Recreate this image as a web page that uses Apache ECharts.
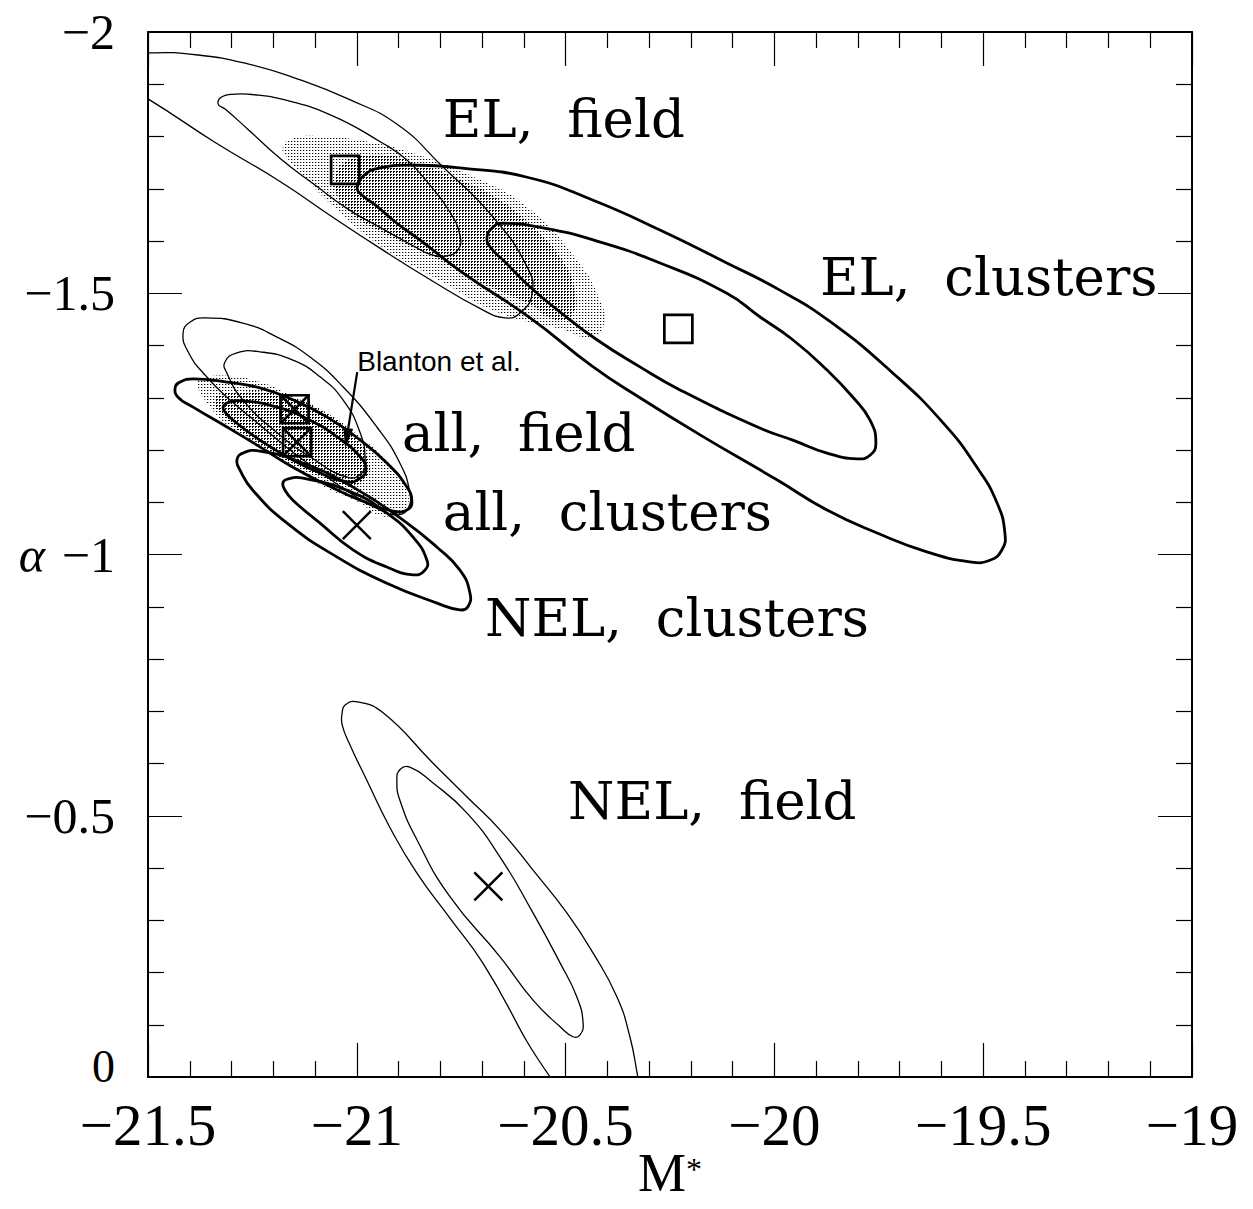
<!DOCTYPE html>
<html><head><meta charset="utf-8">
<script src="https://cdn.jsdelivr.net/npm/echarts@6/dist/echarts.min.js"></script>
<style>html,body{margin:0;padding:0;background:#fff}#c{width:1253px;height:1209px}</style>
</head><body><div id="c"></div>
<script>
// ---- axes ----
const X_MIN = -21.5, X_MAX = -19, X_STEP = 0.5;
const Y_MIN = -2, Y_MAX = 0, Y_STEP = 0.5;

// ---- confidence contours, points: [M*, alpha] ----
const EL_FIELD_OUTER = [[-21.627,-1.935],[-21.591,-1.952],[-21.500,-1.960],[-21.380,-1.956],[-21.261,-1.939],[-21.141,-1.910],[-21.021,-1.872],[-20.901,-1.822],[-20.798,-1.745],[-20.674,-1.646],[-20.592,-1.550],[-20.580,-1.500],[-20.609,-1.462],[-20.645,-1.453],[-20.703,-1.470],[-20.822,-1.525],[-20.942,-1.585],[-21.062,-1.648],[-21.182,-1.713],[-21.340,-1.789],[-21.500,-1.872],[-21.567,-1.900]];
const EL_FIELD_INNER = [[-21.332,-1.862],[-21.323,-1.876],[-21.292,-1.881],[-21.261,-1.881],[-21.182,-1.872],[-21.062,-1.841],[-20.942,-1.789],[-20.880,-1.755],[-20.825,-1.707],[-20.777,-1.655],[-20.753,-1.611],[-20.758,-1.583],[-20.789,-1.571],[-20.825,-1.575],[-20.861,-1.589],[-20.942,-1.625],[-21.021,-1.661],[-21.100,-1.707],[-21.182,-1.757],[-21.261,-1.814],[-21.316,-1.853]];
const EL_CLUSTERS_OUTER = [[-20.999,-1.701],[-20.985,-1.724],[-20.944,-1.740],[-20.849,-1.745],[-20.753,-1.740],[-20.592,-1.722],[-20.434,-1.678],[-20.274,-1.621],[-20.114,-1.558],[-19.987,-1.506],[-19.867,-1.446],[-19.716,-1.347],[-19.596,-1.252],[-19.515,-1.167],[-19.467,-1.099],[-19.448,-1.041],[-19.455,-1.009],[-19.484,-0.989],[-19.532,-0.986],[-19.635,-1.005],[-19.754,-1.041],[-19.874,-1.085],[-19.994,-1.143],[-20.178,-1.229],[-20.322,-1.300],[-20.434,-1.359],[-20.585,-1.453],[-20.746,-1.539],[-20.849,-1.602],[-20.904,-1.634],[-20.956,-1.669],[-20.988,-1.688]];
const EL_CLUSTERS_INNER = [[-20.688,-1.608],[-20.676,-1.625],[-20.652,-1.634],[-20.554,-1.625],[-20.434,-1.602],[-20.274,-1.558],[-20.114,-1.500],[-20.035,-1.455],[-19.956,-1.411],[-19.874,-1.353],[-19.812,-1.301],[-19.771,-1.257],[-19.757,-1.213],[-19.771,-1.190],[-19.802,-1.183],[-19.874,-1.194],[-19.956,-1.219],[-20.035,-1.242],[-20.226,-1.315],[-20.322,-1.359],[-20.425,-1.411],[-20.513,-1.464],[-20.585,-1.512],[-20.645,-1.560],[-20.681,-1.589]];
const ALL_FIELD_OUTER = [[-21.416,-1.424],[-21.399,-1.445],[-21.364,-1.453],[-21.273,-1.443],[-21.191,-1.416],[-21.112,-1.378],[-21.033,-1.321],[-20.952,-1.244],[-20.897,-1.175],[-20.873,-1.118],[-20.877,-1.089],[-20.901,-1.076],[-20.944,-1.085],[-21.016,-1.118],[-21.088,-1.158],[-21.160,-1.200],[-21.232,-1.248],[-21.304,-1.296],[-21.364,-1.344],[-21.404,-1.388]];
const ALL_FIELD_INNER = [[-21.316,-1.368],[-21.287,-1.386],[-21.232,-1.388],[-21.153,-1.372],[-21.088,-1.340],[-21.033,-1.296],[-20.992,-1.233],[-20.980,-1.181],[-20.988,-1.156],[-21.023,-1.148],[-21.112,-1.187],[-21.191,-1.233],[-21.273,-1.296],[-21.311,-1.347]];
const ALL_CLUSTERS_OUTER = [[-21.435,-1.319],[-21.423,-1.330],[-21.392,-1.336],[-21.311,-1.330],[-21.232,-1.319],[-21.153,-1.296],[-21.071,-1.263],[-20.992,-1.219],[-20.928,-1.175],[-20.880,-1.129],[-20.868,-1.100],[-20.880,-1.085],[-20.913,-1.083],[-20.992,-1.104],[-21.071,-1.133],[-21.153,-1.167],[-21.232,-1.206],[-21.311,-1.244],[-21.392,-1.282],[-21.428,-1.301]];
const ALL_CLUSTERS_INNER = [[-21.320,-1.282],[-21.311,-1.290],[-21.273,-1.294],[-21.191,-1.282],[-21.112,-1.257],[-21.047,-1.225],[-20.992,-1.187],[-20.978,-1.162],[-20.992,-1.146],[-21.023,-1.139],[-21.088,-1.156],[-21.153,-1.181],[-21.232,-1.219],[-21.296,-1.257],[-21.316,-1.273]];
const NEL_CLUSTERS_OUTER = [[-21.287,-1.181],[-21.273,-1.194],[-21.232,-1.198],[-21.129,-1.175],[-21.009,-1.129],[-20.889,-1.066],[-20.808,-1.014],[-20.753,-0.970],[-20.729,-0.926],[-20.734,-0.900],[-20.753,-0.894],[-20.808,-0.907],[-20.928,-0.945],[-21.047,-0.995],[-21.167,-1.060],[-21.249,-1.123],[-21.280,-1.162]];
const NEL_CLUSTERS_INNER = [[-21.177,-1.137],[-21.167,-1.144],[-21.129,-1.146],[-21.009,-1.118],[-20.928,-1.079],[-20.865,-1.033],[-20.832,-0.989],[-20.837,-0.970],[-20.865,-0.961],[-20.928,-0.976],[-21.009,-1.009],[-21.088,-1.060],[-21.153,-1.104],[-21.172,-1.123]];
const NEL_FIELD_OUTER = [[-21.035,-0.697],[-21.028,-0.712],[-20.999,-0.718],[-20.937,-0.697],[-20.818,-0.601],[-20.736,-0.536],[-20.657,-0.473],[-20.578,-0.396],[-20.497,-0.314],[-20.434,-0.237],[-20.377,-0.153],[-20.346,-0.077],[-20.327,0.000],[-20.312,0.063],[-20.317,0.121],[-20.346,0.140],[-20.389,0.121],[-20.442,0.073],[-20.537,0.000],[-20.698,-0.218],[-20.777,-0.304],[-20.856,-0.390],[-20.921,-0.478],[-20.976,-0.568],[-21.016,-0.635],[-21.035,-0.674]];
const NEL_FIELD_INNER = [[-20.904,-0.568],[-20.897,-0.588],[-20.873,-0.593],[-20.818,-0.563],[-20.736,-0.505],[-20.657,-0.421],[-20.578,-0.314],[-20.513,-0.218],[-20.473,-0.153],[-20.458,-0.103],[-20.466,-0.080],[-20.482,-0.077],[-20.513,-0.096],[-20.578,-0.147],[-20.657,-0.230],[-20.777,-0.345],[-20.856,-0.454],[-20.897,-0.530]];

// ---- shaded (stippled) regions ----
const EL_SHADE_LIGHT = [[-21.177,-1.780],[-21.158,-1.795],[-21.100,-1.801],[-20.980,-1.791],[-20.861,-1.767],[-20.729,-1.726],[-20.592,-1.665],[-20.473,-1.564],[-20.418,-1.487],[-20.408,-1.439],[-20.442,-1.416],[-20.506,-1.430],[-20.664,-1.464],[-20.782,-1.516],[-20.942,-1.590],[-21.052,-1.663],[-21.141,-1.736],[-21.172,-1.765]];
const EL_SHADE_DARK = [[-21.052,-1.717],[-21.028,-1.751],[-20.944,-1.765],[-20.861,-1.749],[-20.753,-1.717],[-20.657,-1.678],[-20.585,-1.631],[-20.513,-1.569],[-20.478,-1.506],[-20.485,-1.458],[-20.525,-1.449],[-20.585,-1.478],[-20.705,-1.522],[-20.825,-1.573],[-20.942,-1.617],[-21.016,-1.655],[-21.047,-1.688]];
const ALL_SHADE_LIGHT = [[-21.376,-1.334],[-21.311,-1.342],[-21.232,-1.330],[-21.153,-1.303],[-21.071,-1.271],[-20.992,-1.225],[-20.921,-1.175],[-20.880,-1.123],[-20.882,-1.089],[-20.913,-1.074],[-20.956,-1.078],[-20.992,-1.099],[-21.071,-1.127],[-21.153,-1.166],[-21.232,-1.204],[-21.311,-1.248],[-21.364,-1.296],[-21.380,-1.319]];
const ALL_SHADE_DARK = [[-21.340,-1.296],[-21.280,-1.311],[-21.184,-1.305],[-21.088,-1.277],[-21.016,-1.234],[-20.973,-1.181],[-20.978,-1.146],[-21.016,-1.133],[-21.088,-1.150],[-21.160,-1.177],[-21.237,-1.213],[-21.304,-1.254]];

// ---- best-fit markers ----
const SQUARE_PTS = [[-21.028,-1.736],[-20.230,-1.432]];
const CROSSED_SQUARE_PTS = [[-21.149,-1.278],[-21.143,-1.215]];
const CROSS_PTS = [[-21.000,-1.056],[-20.685,-0.365]];

// ---- annotations ----
const LABEL_TEXT = ['EL,\u00a0 field','EL,\u00a0 clusters','all,\u00a0 field','all,\u00a0 clusters','NEL,\u00a0 clusters','NEL,\u00a0 field','Blanton et al.'];
const LABEL_POS = [[-20.794,-1.835],[-19.891,-1.533],[-20.892,-1.234],[-20.794,-1.083],[-20.693,-0.880],[-20.494,-0.530],[-20.999,-1.370]];
const ARROW = [[-20.999,-1.349],[-21.028,-1.204]];

// ---- styling / assembly ----
const THIN = 1.3, THICK = 2.8, SMOOTH = 0.5;
const CONTOURS = [
  {pts: EL_FIELD_OUTER, w: THIN}, {pts: EL_FIELD_INNER, w: THIN},
  {pts: EL_CLUSTERS_OUTER, w: THICK}, {pts: EL_CLUSTERS_INNER, w: THICK},
  {pts: ALL_FIELD_OUTER, w: THIN}, {pts: ALL_FIELD_INNER, w: THIN},
  {pts: ALL_CLUSTERS_OUTER, w: THICK}, {pts: ALL_CLUSTERS_INNER, w: THICK},
  {pts: NEL_CLUSTERS_OUTER, w: THICK}, {pts: NEL_CLUSTERS_INNER, w: THICK},
  {pts: NEL_FIELD_OUTER, w: THIN}, {pts: NEL_FIELD_INNER, w: THIN}
];
function dots(cells, gray) {
  const cv = document.createElement('canvas'); cv.width = 3; cv.height = 3;
  const g = cv.getContext('2d'); g.fillStyle = '#fff'; g.fillRect(0,0,3,3);
  g.fillStyle = '#000'; cells.forEach(c => g.fillRect(c[0], c[1], 1, 1));
  if (gray) { g.fillStyle = gray; g.fillRect(1,0,1,1); }
  return {image: cv, repeat: 'repeat', imageWidth: 3, imageHeight: 3};
}
const LIGHT = dots([[0,0]], '#bbb');
const DARK = dots([[0,0],[1,0],[0,1]], null);
const SHADES = [
  {pts: EL_SHADE_LIGHT, fill: LIGHT}, {pts: EL_SHADE_DARK, fill: DARK},
  {pts: ALL_SHADE_LIGHT, fill: LIGHT}, {pts: ALL_SHADE_DARK, fill: DARK}
];
const MARKERS = [].concat(
  SQUARE_PTS.map(p => [p[0], p[1], 0]),
  CROSSED_SQUARE_PTS.map(p => [p[0], p[1], 1]),
  CROSS_PTS.map(p => [p[0], p[1], 2])
);
const fmt = v => v === 0 ? '0' : (v < 0 ? '\u2212' : '') + Math.abs(v);
const fmtY = v => v === 0 ? '{z|0}' : fmt(v);
const BLACK = '#000';

function xAx(pos, labels) {
  return {
    type: 'value', position: pos, min: X_MIN, max: X_MAX, interval: X_STEP,
    splitLine: {show: false},
    axisLine: {show: true, onZero: false, lineStyle: {color: BLACK, width: 2}},
    axisTick: {show: true, inside: true, length: 34, lineStyle: {color: BLACK, width: 1.2}},
    minorTick: {show: true, splitNumber: 5, length: 16, lineStyle: {color: BLACK, width: 1.2}},
    axisLabel: {show: labels, margin: 27, color: BLACK, fontFamily: 'Liberation Serif', fontSize: 59, lineHeight: 42, formatter: fmt},
    name: labels ? 'M{s|*}' : '', nameLocation: 'middle', nameGap: 76, nameMoveOverlap: false,
    nameTextStyle: {color: BLACK, fontFamily: 'Liberation Serif', fontSize: 54, lineHeight: 40,
      rich: {s: {fontFamily: 'Liberation Serif', fontSize: 32, lineHeight: 40, verticalAlign: 'top', color: BLACK}}}
  };
}
function yAx(pos, labels) {
  return {
    type: 'value', position: pos, inverse: true, min: Y_MIN, max: Y_MAX, interval: Y_STEP,
    splitLine: {show: false},
    axisLine: {show: true, onZero: false, lineStyle: {color: BLACK, width: 2}},
    axisTick: {show: true, inside: true, length: 34, lineStyle: {color: BLACK, width: 1.2}},
    minorTick: {show: true, splitNumber: 5, length: 16, lineStyle: {color: BLACK, width: 1.2}},
    axisLabel: {show: labels, margin: 33, color: BLACK, fontFamily: 'Liberation Serif', fontSize: 50, lineHeight: 34, formatter: fmtY,
      rich: {z: {fontFamily: 'Liberation Serif', fontSize: 46, lineHeight: 30, padding: [0, 0, 22, 0], color: BLACK}}},
    name: labels ? '\u03b1' : '', nameLocation: 'middle', nameRotate: 0, nameGap: 103, nameMoveOverlap: false,
    nameTextStyle: {color: BLACK, fontFamily: 'Liberation Serif', fontStyle: 'italic', fontSize: 50}
  };
}

const chart = echarts.init(document.getElementById('c'), null, {renderer: 'svg'});
chart.setOption({
  animation: false,
  backgroundColor: '#fff',
  grid: {left: 148, right: 61, top: 32, bottom: 132, containLabel: false, outerBoundsMode: 'none'},
  xAxis: [xAx('bottom', true), xAx('top', false)],
  yAxis: [yAx('left', true), yAx('right', false)],
  series: [
    {
      type: 'custom', coordinateSystem: 'cartesian2d', clip: true, silent: true, z: 1,
      data: SHADES.map((s, i) => [s.pts[0][0], s.pts[0][1], i]), encode: {x: 0, y: 1},
      renderItem: (params, api) => {
        const s = SHADES[api.value(2)];
        return {type: 'polygon', shape: {points: s.pts.map(p => api.coord(p)), smooth: SMOOTH},
                style: {fill: s.fill, stroke: 'none'}};
      }
    },
    {
      type: 'custom', coordinateSystem: 'cartesian2d', clip: true, silent: true, z: 2,
      data: CONTOURS.map((c, i) => [c.pts[0][0], c.pts[0][1], i]), encode: {x: 0, y: 1},
      renderItem: (params, api) => {
        const c = CONTOURS[api.value(2)];
        return {type: 'polygon', shape: {points: c.pts.map(p => api.coord(p)), smooth: SMOOTH},
                style: {fill: 'none', stroke: BLACK, lineWidth: c.w}};
      }
    },
    {
      type: 'custom', coordinateSystem: 'cartesian2d', silent: true, z: 3,
      data: MARKERS, encode: {x: 0, y: 1},
      renderItem: (params, api) => {
        const p = api.coord([api.value(0), api.value(1)]);
        const k = api.value(2), h = 14, ch = [];
        if (k !== 2) ch.push({type: 'rect', shape: {x: p[0]-h, y: p[1]-h, width: 2*h, height: 2*h},
                              style: {fill: 'none', stroke: BLACK, lineWidth: 2.7}});
        if (k !== 0) {
          ch.push({type: 'line', shape: {x1: p[0]-h, y1: p[1]-h, x2: p[0]+h, y2: p[1]+h}, style: {stroke: BLACK, lineWidth: 2.5}});
          ch.push({type: 'line', shape: {x1: p[0]+h, y1: p[1]-h, x2: p[0]-h, y2: p[1]+h}, style: {stroke: BLACK, lineWidth: 2.5}});
        }
        return {type: 'group', children: ch};
      }
    },
    {
      type: 'custom', coordinateSystem: 'cartesian2d', silent: true, z: 4,
      data: [[ARROW[0][0], ARROW[0][1], ARROW[1][0], ARROW[1][1]]], encode: {x: 0, y: 1},
      renderItem: (params, api) => {
        const a = api.coord([api.value(0), api.value(1)]), b = api.coord([api.value(2), api.value(3)]);
        const dx = b[0]-a[0], dy = b[1]-a[1], L = Math.hypot(dx, dy), ux = dx/L, uy = dy/L;
        const hl = 20, hw = 5, bx = b[0]-ux*hl, by = b[1]-uy*hl;
        return {type: 'group', children: [
          {type: 'line', shape: {x1: a[0], y1: a[1], x2: bx, y2: by}, style: {stroke: BLACK, lineWidth: 2.2}},
          {type: 'polygon', shape: {points: [b, [bx-uy*hw, by+ux*hw], [bx+uy*hw, by-ux*hw]]}, style: {fill: BLACK, stroke: 'none'}}
        ]};
      }
    },
    {
      type: 'custom', coordinateSystem: 'cartesian2d', silent: true, z: 5,
      data: LABEL_POS.map((p, i) => [p[0], p[1], i]), encode: {x: 0, y: 1},
      renderItem: (params, api) => {
        const i = api.value(2), p = api.coord([api.value(0), api.value(1)]);
        const note = i === 6;
        return {type: 'text', x: p[0], y: p[1], style: {
          text: LABEL_TEXT[i], fill: BLACK,
          fontFamily: note ? 'Liberation Sans' : 'DejaVu Serif', fontSize: note ? 28 : 53,
          align: 'left', verticalAlign: 'middle'}};
      }
    }
  ]
});
</script></body></html>
